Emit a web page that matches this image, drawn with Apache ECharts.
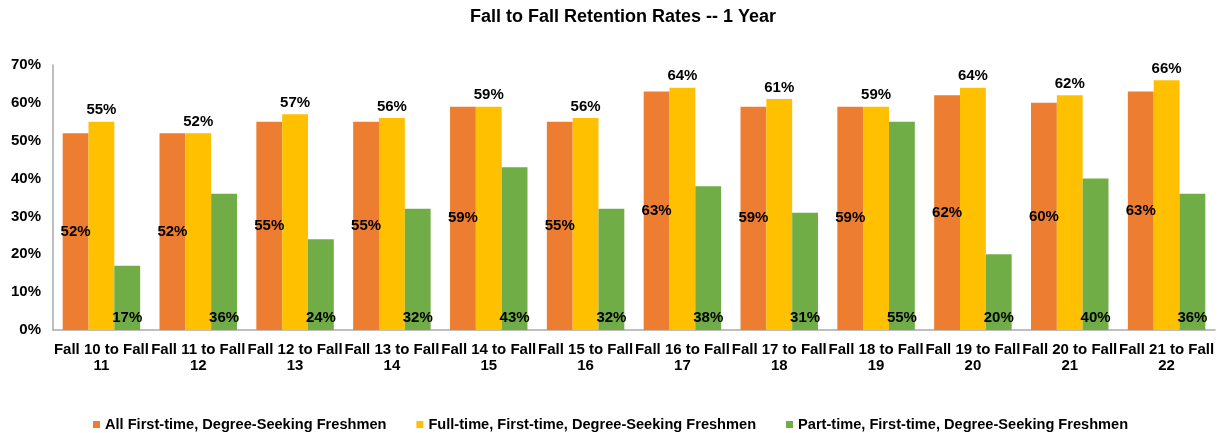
<!DOCTYPE html>
<html>
<head>
<meta charset="utf-8">
<script src="https://cdn.jsdelivr.net/npm/echarts@6/dist/echarts.min.js"></script>
<style>
html,body{margin:0;padding:0;background:#fff;}
#main{width:1221px;height:433px;}
</style>
</head>
<body>
<div id="main"></div>
<script>
var categories=['Fall 10 to Fall 11','Fall 11 to Fall 12','Fall 12 to Fall 13','Fall 13 to Fall 14','Fall 14 to Fall 15','Fall 15 to Fall 16','Fall 16 to Fall 17','Fall 17 to Fall 18','Fall 18 to Fall 19','Fall 19 to Fall 20','Fall 20 to Fall 21','Fall 21 to Fall 22'];
var seriesNames=['All First-time, Degree-Seeking Freshmen','Full-time, First-time, Degree-Seeking Freshmen','Part-time, First-time, Degree-Seeking Freshmen'];
var allFreshmen=[52,52,55,55,59,55,63,59,59,62,60,63];
var fullTime=[55,52,57,56,59,56,64,61,59,64,62,66];
var partTime=[17,36,24,32,43,32,38,31,55,20,40,36];

var font='"Liberation Sans", Arial, sans-serif';
var myChart=echarts.init(document.getElementById('main'));

function labelStyle(pos){
    return {
        show:true,
        position:pos,
        distance:pos=='top'?4:5,
        formatter:'{c}%',
        color:'#000',
        fontFamily:font,
        fontWeight:'bold',
        fontSize:15
    };
}

// x轴标签：最后一个空格换行
function catFmt(v){
    var i=v.lastIndexOf(' ');
    return v.substring(0,i)+'\n'+v.substring(i+1);
}

var option={
    animation:false,
    title:{
        text:'Fall to Fall Retention Rates -- 1 Year',
        left:618,
        top:3,
        textAlign:'center',
        textStyle:{fontFamily:font,fontWeight:'bold',fontSize:18,color:'#000'}
    },
    legend:{
        top:412,
        left:88,
        itemWidth:7,
        itemHeight:7,
        itemGap:30,
        icon:'rect',
        textStyle:{fontFamily:font,fontWeight:'bold',fontSize:14.6,color:'#000'},
        data:seriesNames
    },
    grid:{left:53,right:6,top:65,bottom:103,containLabel:false},
    xAxis:{
        type:'category',
        data:categories,
        axisLine:{lineStyle:{color:'#aaa',width:1.5}},
        axisTick:{show:false},
        axisLabel:{
            interval:0,
            margin:12,
            color:'#000',
            fontFamily:font,
            fontWeight:'bold',
            fontSize:15,
            lineHeight:16,
            formatter:catFmt
        }
    },
    yAxis:{
        type:'value',
        min:0,
        max:70,
        interval:10,
        axisLine:{show:true,lineStyle:{color:'#aaa',width:1.5}},
        axisTick:{show:false},
        splitLine:{show:false},
        axisLabel:{
            formatter:'{value}%',
            color:'#000',
            fontFamily:font,
            fontWeight:'bold',
            fontSize:15,
            margin:12
        }
    },
    series:[
        {name:seriesNames[0],type:'bar',data:allFreshmen,barGap:'0%',barCategoryGap:'20%',
         itemStyle:{color:'#ED7D31'},label:labelStyle('inside')},
        {name:seriesNames[1],type:'bar',data:fullTime,barGap:'0%',barCategoryGap:'20%',
         itemStyle:{color:'#FFC000'},label:labelStyle('top')},
        {name:seriesNames[2],type:'bar',data:partTime,barGap:'0%',barCategoryGap:'20%',
         itemStyle:{color:'#70AD47'},label:labelStyle('insideBottom')}
    ]
};
myChart.setOption(option);
</script>
</body>
</html>
